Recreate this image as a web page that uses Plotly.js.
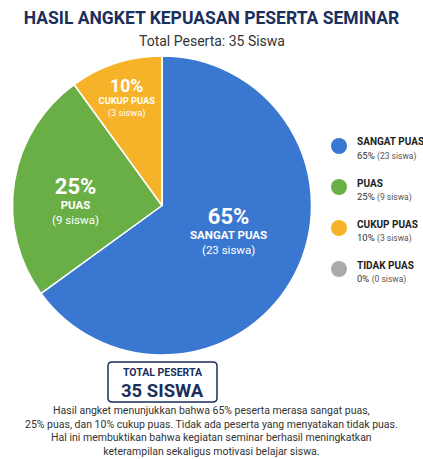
<!DOCTYPE html>
<html>
<head>
<meta charset="utf-8">
<script src="https://cdn.plot.ly/plotly-3.0.1.min.js"></script>
<style>html,body{margin:0;padding:0;background:#fff;}#chart{width:423px;height:459px;}</style>
</head>
<body>
<div id="chart"></div>
<script>
var categories = ["SANGAT PUAS", "PUAS", "CUKUP PUAS", "TIDAK PUAS"];
var percents = [65, 25, 10, 0];
var counts = [23, 9, 3, 0];
var colors = ["#3a77d0", "#6aae46", "#f6b228", "#aaaaaa"];
var totalPeserta = 35;
var summaryLines = [
  "Hasil angket menunjukkan bahwa 65% peserta merasa sangat puas,",
  "25% puas, dan 10% cukup puas. Tidak ada peserta yang menyatakan tidak puas.",
  "Hal ini membuktikan bahwa kegiatan seminar berhasil meningkatkan",
  "keterampilan sekaligus motivasi belajar siswa."
];

var navy = "#1b2f5c";
var BODY = "Roboto, sans-serif";
var W = 423, H = 459;
function px(x){return x / W;}
function py(y){return 1 - y / H;}

var custom = categories.map(function(c, i){ return [percents[i], counts[i]]; });

// label body, with invisible spacer lines to nudge label placement (style only)
var core = "<b><span style='font-size:22px'>%{customdata[0]}%</span></b><br><b>%{label}</b><br>(%{customdata[1]} siswa)";
var NB = "\u00a0";
var templates = [
  core + "<br><span style='font-size:26px'>" + NB + "</span>",
  "<span style='font-size:24px'>" + NB + "</span><br>" + core,
  core,
  core
];

var pie = {
  type: "pie",
  labels: categories,
  values: percents,
  customdata: custom,
  sort: false,
  direction: "clockwise",
  rotation: 0,
  marker: {colors: colors, line: {color: "#ffffff", width: 1.5}},
  texttemplate: templates,
  textposition: "inside",
  insidetextorientation: "horizontal",
  textfont: {family: BODY, size: 11.5, color: "#ffffff"},
  hoverinfo: "none",
  showlegend: false,
  domain: {x: [px(12.5), px(311.5)], y: [py(355), py(56)]}
};

var annotations = [];
var shapes = [];

annotations.push({xref: "paper", yref: "paper", x: 0.5, y: py(41), xanchor: "center", yanchor: "middle",
  text: "Total Peserta: " + totalPeserta + " Siswa", showarrow: false,
  font: {family: BODY, size: 14, color: "#333333"}});

// legend
var legY0 = 146, legStep = 41;
categories.forEach(function(c, i){
  var cy = legY0 + i * legStep;
  shapes.push({type: "circle", xref: "paper", yref: "paper",
    x0: px(331), x1: px(347), y0: py(cy + 8), y1: py(cy - 8),
    fillcolor: colors[i], line: {width: 0}});
  annotations.push({xref: "paper", yref: "paper", x: px(355), y: py(cy - 4), xanchor: "left", yanchor: "middle",
    text: "<b>" + c + "</b>", showarrow: false,
    font: {family: BODY, size: 10, color: "#222222"}});
  annotations.push({xref: "paper", yref: "paper", x: px(355), y: py(cy + 10), xanchor: "left", yanchor: "middle",
    text: percents[i] + "% <span style='font-size:8.5px;color:#555'>(" + counts[i] + " siswa)</span>", showarrow: false,
    font: {family: BODY, size: 9.5, color: "#333333"}});
});

// total box (rounded rectangle)
(function(){
  var x0 = 108, x1 = 217, y0 = 362, y1 = 402, r = 4;
  var d = "M" + px(x0 + r) + "," + py(y0) +
    " L" + px(x1 - r) + "," + py(y0) +
    " Q" + px(x1) + "," + py(y0) + " " + px(x1) + "," + py(y0 + r) +
    " L" + px(x1) + "," + py(y1 - r) +
    " Q" + px(x1) + "," + py(y1) + " " + px(x1 - r) + "," + py(y1) +
    " L" + px(x0 + r) + "," + py(y1) +
    " Q" + px(x0) + "," + py(y1) + " " + px(x0) + "," + py(y1 - r) +
    " L" + px(x0) + "," + py(y0 + r) +
    " Q" + px(x0) + "," + py(y0) + " " + px(x0 + r) + "," + py(y0) + " Z";
  shapes.push({type: "path", xref: "paper", yref: "paper", path: d,
    fillcolor: "#ffffff", line: {color: navy, width: 1.5}, layer: "above"});
})();
annotations.push({xref: "paper", yref: "paper", x: px(162.5), y: py(372), xanchor: "center", yanchor: "middle",
  text: "<b>TOTAL PESERTA</b>", showarrow: false, borderpad: 0,
  font: {family: BODY, size: 10.5, color: navy}});
annotations.push({xref: "paper", yref: "paper", x: px(162.5), y: py(390.5), xanchor: "center", yanchor: "middle",
  text: "<b>" + totalPeserta + " SISWA</b>", showarrow: false, borderpad: 0,
  font: {family: BODY, size: 18.5, color: navy}});

annotations.push({xref: "paper", yref: "paper", x: px(211), y: py(431), xanchor: "center", yanchor: "middle",
  text: summaryLines.join("<br>"), showarrow: false, align: "center",
  font: {family: BODY, size: 10.5, color: "#333333"}});

var layout = {
  width: W, height: H,
  margin: {l: 0, r: 0, t: 0, b: 0},
  paper_bgcolor: "#ffffff",
  title: {text: "<b>HASIL ANGKET KEPUASAN PESERTA SEMINAR</b>", x: 0.5, xanchor: "center",
    y: py(18), yanchor: "middle", yref: "container",
    font: {family: BODY, size: 17.5, color: navy}},
  showlegend: false,
  shapes: shapes,
  annotations: annotations
};

Plotly.newPlot("chart", [pie], layout, {displayModeBar: false, staticPlot: true});
</script>
</body>
</html>
